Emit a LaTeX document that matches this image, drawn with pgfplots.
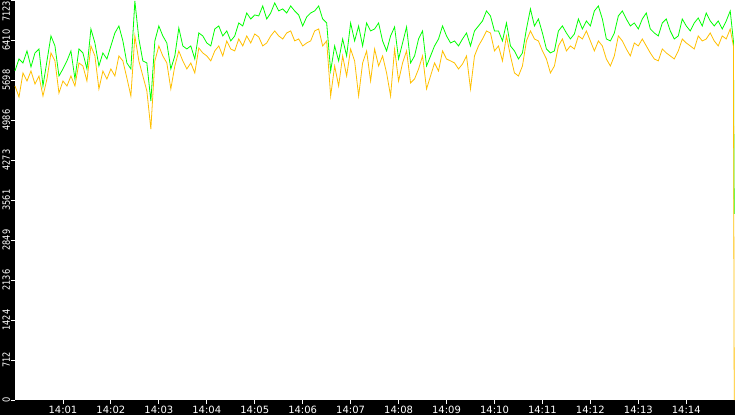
\documentclass[border=0pt]{standalone}
\usepackage{pgfplots}
\usepackage{pgfplotstable}
\pgfplotsset{compat=1.18}
\usepackage{fontspec}
\setmainfont{DejaVu Sans}
\newfontfamily\ylabfont[FakeStretch=0.82]{DejaVu Sans}
\definecolor{lineGreen}{RGB}{0,255,0}
\definecolor{lineOrange}{RGB}{255,192,0}

% t = seconds after 14:00, g = green series, o = orange series
\pgfplotstableread{
t g o
0 5859 5592
5 6073 5396
10 6002 5824
15 6216 5681
20 5931 5859
25 6180 5628
30 6251 5770
35 5592 5414
40 6038 5717
45 6483 6180
50 6305 6038
55 5770 5467
60 5895 5681
65 6038 5592
70 6216 5770
75 5717 5592
80 6251 6002
85 6180 5948
90 5895 5681
95 6607 6305
100 6358 6127
105 5948 5539
110 6180 5859
115 6073 5717
120 6305 5895
125 6536 5770
130 6661 6127
135 6394 6038
140 6002 5735
145 5895 5414
150 7106 6483
155 6429 6038
160 6038 5770
165 6002 5503
170 5325 4826
175 6394 6038
180 6661 6305
185 6483 6127
190 6358 6002
195 5895 5539
200 6127 5948
205 6625 6216
210 6305 6038
215 6251 5895
220 6305 6002
225 6073 5824
230 6536 6269
235 6483 6180
240 6358 6127
245 6305 6038
250 6607 6216
255 6661 6305
260 6483 6127
265 6572 6394
270 6394 6251
275 6483 6216
280 6714 6429
285 6661 6305
290 6892 6483
295 6785 6358
300 6857 6518
305 6839 6465
310 7017 6305
315 6785 6358
320 6892 6483
325 7070 6572
330 6928 6483
335 6964 6429
340 6892 6536
345 7017 6572
350 6928 6394
355 6857 6429
360 6661 6305
365 6821 6358
370 6892 6394
375 6928 6572
380 7017 6607
385 6785 6305
390 6714 6394
395 5859 5414
400 6305 5948
405 6038 5592
410 6429 6127
415 6127 5770
420 6714 6251
425 6394 6038
430 6661 5414
435 6305 6002
440 6714 6216
445 6572 5681
450 6607 6251
455 6714 5948
460 6394 6127
465 6216 5824
470 6483 5414
475 6643 6251
480 6073 5681
485 6358 6002
490 6643 6216
495 6002 5645
500 6127 5717
505 6429 5895
510 6572 6127
515 5948 5539
520 6127 5770
525 6305 6002
530 6429 5859
535 6661 6216
540 6483 6073
545 6358 6038
550 6394 6002
555 6305 5895
560 6429 5984
565 6536 6127
570 6305 5539
575 6572 6127
580 6661 6305
585 6750 6429
590 6928 6572
595 6839 6536
600 6572 6216
605 6572 6305
610 6394 6038
615 6714 6483
620 6305 6127
625 6216 5824
630 6073 5770
635 6180 5948
640 6607 6394
645 6964 6572
650 6661 6429
655 6785 6394
660 6536 6216
665 6251 6073
670 6180 5824
675 6216 5948
680 6572 6305
685 6661 6429
690 6536 6216
695 6429 6305
700 6518 6251
705 6785 6483
710 6607 6429
715 6750 6572
720 6661 6394
725 6928 6216
730 7017 6394
735 6785 6305
740 6429 6073
745 6394 5948
750 6536 6127
755 6839 6483
760 6928 6394
765 6785 6251
770 6661 6127
775 6714 6358
780 6607 6305
785 6785 6429
790 6892 6305
795 6607 6180
800 6536 6073
805 6483 6038
810 6714 6251
815 6785 6180
820 6572 6127
825 6429 6073
830 6483 6216
835 6785 6429
840 6661 6358
845 6572 6305
850 6714 6251
855 6803 6483
860 6661 6394
865 6892 6429
870 6750 6536
875 6661 6394
880 6750 6305
885 6607 6483
890 6750 6429
895 6928 6607
899 6394 6305
900 3313 0
}\datatable

\begin{document}
\begin{tikzpicture}[x=1pt,y=1pt]
\fill[black] (-15,-15) rectangle (720,400);
\begin{axis}[
    at={(0,0)}, anchor=south west,
    scale only axis,
    width=720pt, height=400pt,
    xmin=0, xmax=901,
    ymin=0, ymax=7123,
    axis background/.style={fill=white},
    axis line style={draw=none},
    tick align=outside,
    major tick length=4pt,
    tick style={white, line width=0.8pt},
    xtick={60,120,180,240,300,360,420,480,540,600,660,720,780,840},
    xticklabels={14:01,14:02,14:03,14:04,14:05,14:06,14:07,14:08,14:09,14:10,14:11,14:12,14:13,14:14},
    ytick={0,712,1424,2136,2849,3561,4273,4986,5698,6410},
    extra y ticks={7123},
    extra y tick style={grid=none, yticklabel style={anchor=south east}},
    scaled ticks=false,
    yticklabel style={
        /pgf/number format/fixed,
        /pgf/number format/1000 sep={},
        /pgf/number format/assume math mode=true,
        rotate=90, anchor=south, inner sep=0.8pt,
        font=\ylabfont\fontsize{10}{10}\selectfont, text=white
    },
    xticklabel style={font=\fontsize{10}{10}\selectfont, text=white, inner sep=0pt, yshift=-2pt},
    clip=false,
]
\addplot[lineGreen, line width=0.8pt, no markers] table[x=t, y=g] {\datatable};
\addplot[lineOrange, line width=0.8pt, no markers] table[x=t, y=o] {\datatable};
\end{axis}
\pgfresetboundingbox
\useasboundingbox (-15,-15) rectangle (720,400);
\end{tikzpicture}
\end{document}
